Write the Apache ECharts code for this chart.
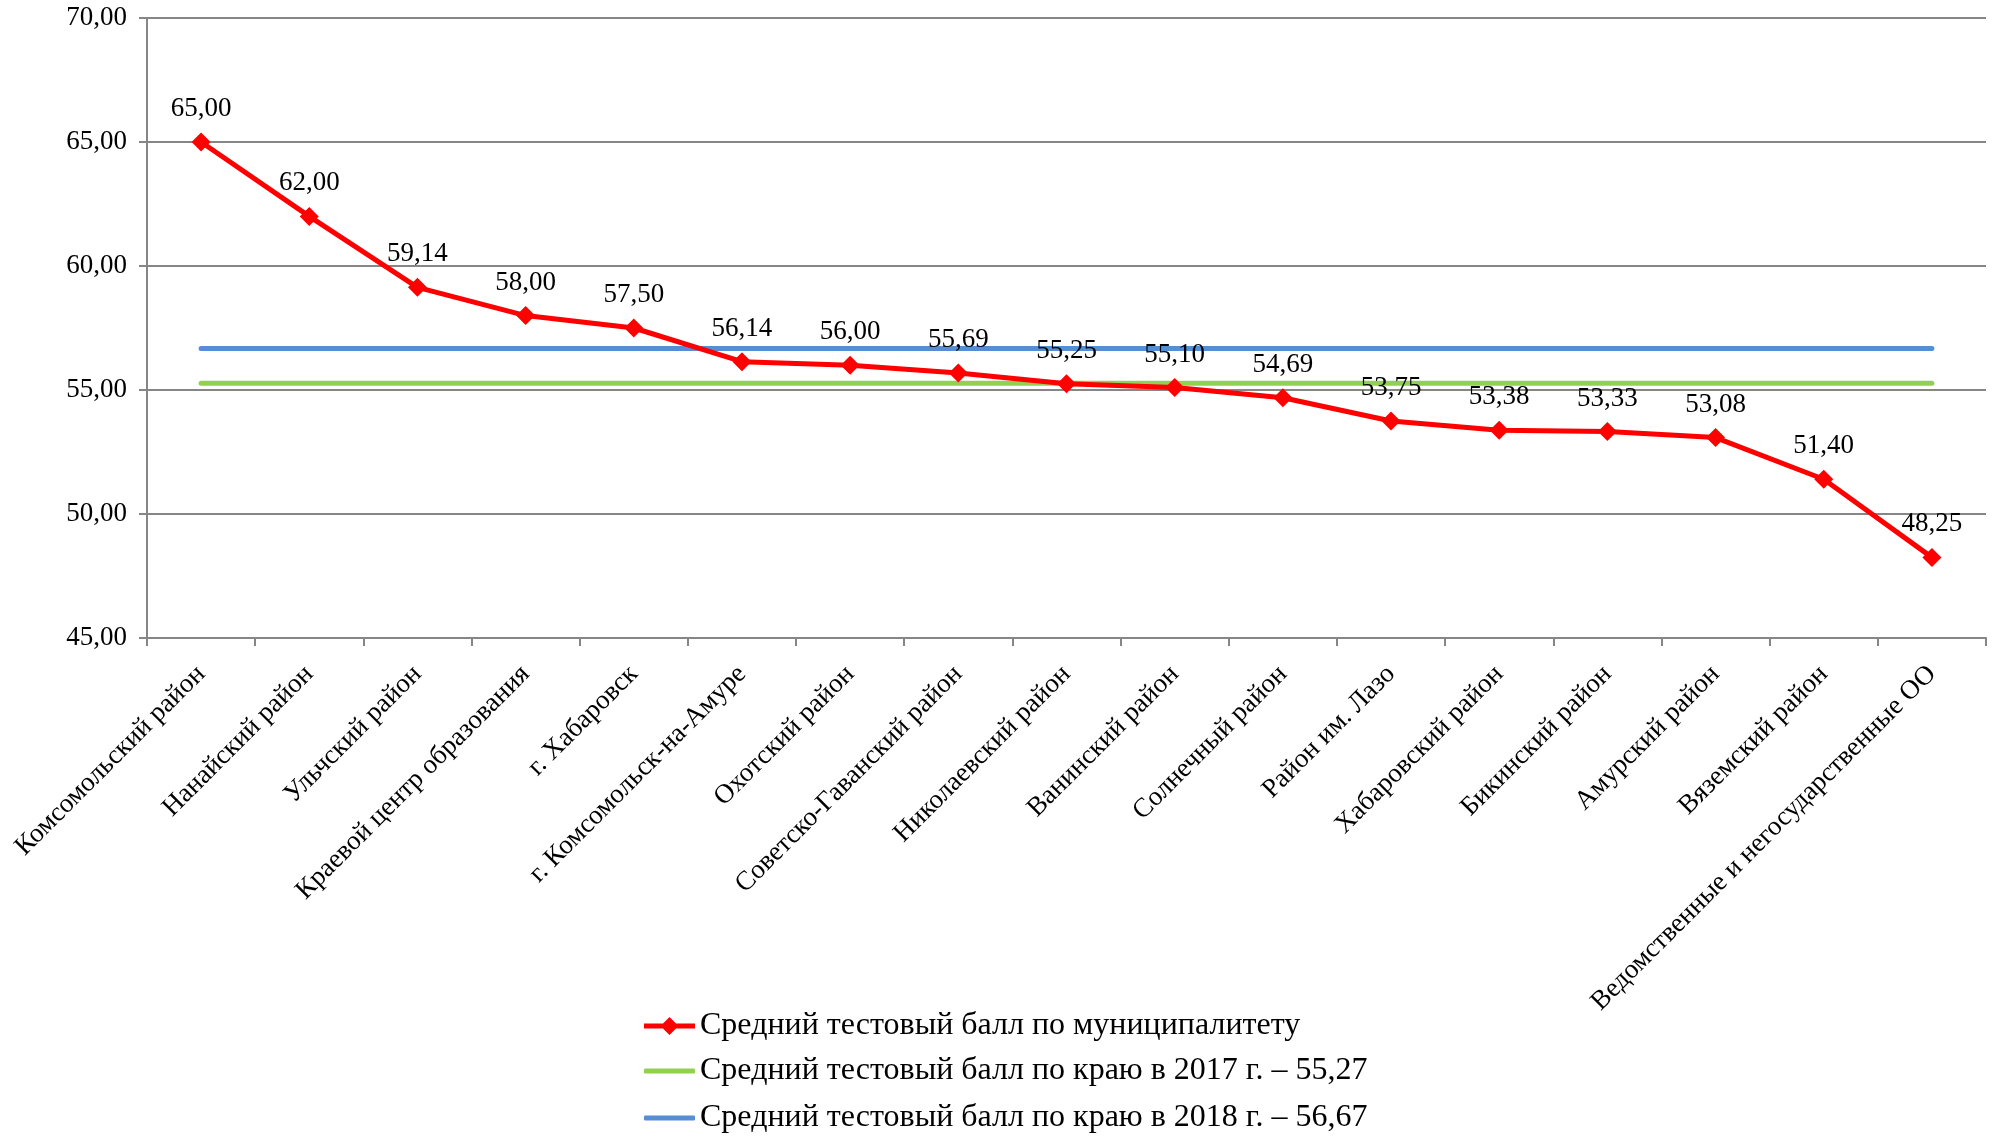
<!DOCTYPE html>
<html>
<head>
<meta charset="utf-8">
<script src="https://cdn.jsdelivr.net/npm/echarts@6/dist/echarts.min.js"></script>
<style>
html,body{margin:0;padding:0;background:#fff;}
#chart{width:1997px;height:1136px;}
</style>
</head>
<body>
<div id="chart"></div>
<script>
const categories = [
  "Комсомольский район",
  "Нанайский район",
  "Ульчский район",
  "Краевой центр образования",
  "г. Хабаровск",
  "г. Комсомольск-на-Амуре",
  "Охотский район",
  "Советско-Гаванский район",
  "Николаевский район",
  "Ванинский район",
  "Солнечный район",
  "Район им. Лазо",
  "Хабаровский район",
  "Бикинский район",
  "Амурский район",
  "Вяземский район",
  "Ведомственные и негосударственные ОО"
];
const municipalScores = [65.00, 62.00, 59.14, 58.00, 57.50, 56.14, 56.00, 55.69, 55.25, 55.10, 54.69, 53.75, 53.38, 53.33, 53.08, 51.40, 48.25];
const regionAvg2017 = 55.27;
const regionAvg2018 = 56.67;
const seriesNames = [
  "Средний тестовый балл по муниципалитету",
  "Средний тестовый балл по краю в 2017 г. – 55,27",
  "Средний тестовый балл по краю в 2018 г. – 56,67"
];
const yTicks = { min: 45, max: 70, step: 5 };

const fmt = v => Number(v).toFixed(2).replace('.', ',');
const FONT = '"Liberation Serif", "Times New Roman", serif';
const first = categories[0], last = categories[categories.length - 1];

const RED = '#ff0000', GREEN = '#92d050', BLUE = '#558ed5';
const redIcon = 'path://M0,6.5 L51,6.5 L51,11.5 L0,11.5 Z M25.5,0 L34.5,9 L25.5,18 L16.5,9 Z';

function legendAt(name, top, icon, itemHeight) {
  return {
    orient: 'vertical',
    left: 639,
    top: top,
    itemWidth: 51,
    itemHeight: itemHeight,
    data: [{ name: name, icon: icon }],
    textStyle: { fontFamily: FONT, fontSize: 32, color: '#000', lineHeight: 34 }
  };
}

const chart = echarts.init(document.getElementById('chart'), null, { renderer: 'canvas' });
chart.setOption({
  animation: false,
  backgroundColor: '#ffffff',
  textStyle: { fontFamily: FONT, color: '#000' },
  grid: { left: 147, right: 11, top: 18, bottom: 498, containLabel: false },
  legend: [
    legendAt(seriesNames[0], 1004, redIcon, 18),
    legendAt(seriesNames[1], 1049, 'roundRect', 5),
    legendAt(seriesNames[2], 1096, 'roundRect', 5)
  ],
  xAxis: {
    type: 'category',
    data: categories,
    boundaryGap: true,
    axisLine: { lineStyle: { color: '#868686', width: 2 } },
    axisTick: { show: true, length: 8, lineStyle: { color: '#868686', width: 2 } },
    axisLabel: { rotate: 45, interval: 0, margin: 32, fontFamily: FONT, fontSize: 27, color: '#000' },
    splitLine: { show: false }
  },
  yAxis: {
    type: 'value',
    min: yTicks.min, max: yTicks.max, interval: yTicks.step,
    axisLine: { show: true, lineStyle: { color: '#868686', width: 2 } },
    axisTick: { show: true, length: 8, lineStyle: { color: '#868686', width: 2 } },
    axisLabel: { margin: 20, fontFamily: FONT, fontSize: 27, color: '#000', formatter: fmt },
    splitLine: { show: true, lineStyle: { color: '#868686', width: 2 } }
  },
  series: [
    {
      name: seriesNames[0],
      type: 'line',
      data: municipalScores,
      z: 4,
      color: RED,
      symbol: 'diamond',
      symbolSize: 19,
      lineStyle: { color: RED, width: 5 },
      itemStyle: { color: RED },
      label: { show: true, position: 'top', distance: 10, fontFamily: FONT, fontSize: 27, color: '#000', formatter: p => fmt(p.value) }
    },
    {
      name: seriesNames[1],
      type: 'line',
      data: [[first, regionAvg2017], [last, regionAvg2017]],
      z: 3,
      color: GREEN,
      symbol: 'none',
      lineStyle: { color: GREEN, width: 5, cap: 'round' }
    },
    {
      name: seriesNames[2],
      type: 'line',
      data: [[first, regionAvg2018], [last, regionAvg2018]],
      z: 3,
      color: BLUE,
      symbol: 'none',
      lineStyle: { color: BLUE, width: 5, cap: 'round' }
    }
  ]
});
</script>
</body>
</html>
